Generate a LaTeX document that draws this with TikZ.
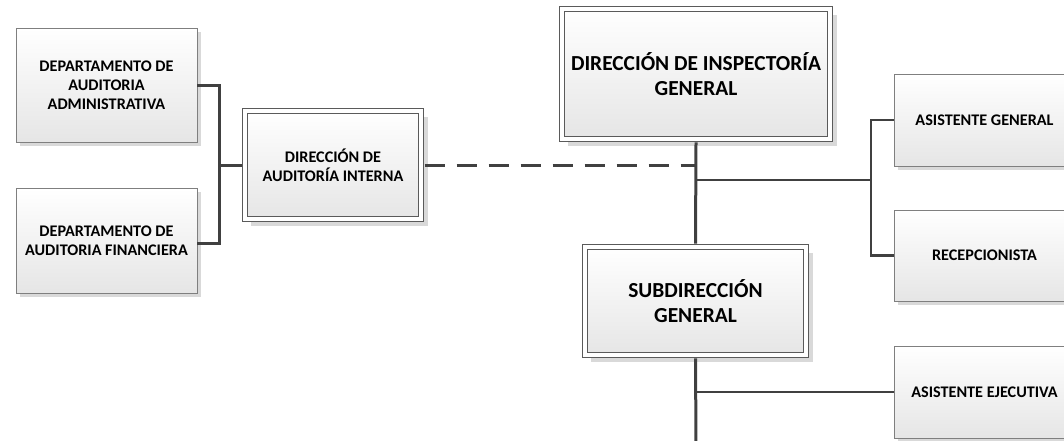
\documentclass[tikz,border=0pt]{standalone}
\usepackage{fontspec}
\setmainfont{Carlito}
\usetikzlibrary{shadows}
\definecolor{lin}{HTML}{404040}
\definecolor{brd}{HTML}{7F7F7F}
\definecolor{dbrd}{HTML}{5A5A5A}
\tikzset{
  box/.style={draw=brd, line width=0.8pt, top color=white, bottom color=gray!20,
    align=center, font=\bfseries\fontsize{16.2}{19}\selectfont, inner sep=0pt,
    drop shadow={shadow xshift=4pt, shadow yshift=-4pt, fill=black!15, opacity=1}},
  dbox/.style={draw=dbrd, line width=0.8pt, double=white, double distance=4pt,
    top color=white, bottom color=gray!20, align=center, inner sep=0pt,
    drop shadow={shadow xshift=6.5pt, shadow yshift=-6.5pt, fill=black!15, opacity=1}},
  big/.style={font=\bfseries\fontsize{21.4}{25.5}\selectfont},
  small/.style={font=\bfseries\fontsize{16.2}{19}\selectfont},
  conn/.style={draw=lin, line width=3pt},
  thinconn/.style={draw=lin, line width=2.4pt},
  dashconn/.style={draw=lin, line width=3pt, dash pattern=on 20pt off 12pt},
}
\begin{document}
\begin{tikzpicture}[x=1pt, y=-1pt]
\useasboundingbox (0,0) rectangle (1064,441);
\clip (0,0) rectangle (1064,441);
\coordinate (j1) at (219,165);
\coordinate (m1) at (696,165);
\coordinate (m2) at (696,180);
\coordinate (r1) at (871,180);
\coordinate (s1) at (696,392);
\coordinate (s2) at (696,445);
% boxes
\node[box, minimum width=181pt, minimum height=114pt] (adm) at (106.5,85) {DEPARTAMENTO DE\\AUDITORIA\\ADMINISTRATIVA};
\node[box, minimum width=181pt, minimum height=105pt] (fin) at (106.5,240.5) {DEPARTAMENTO DE\\AUDITORIA FINANCIERA};
\node[dbox, small, minimum width=176.4pt, minimum height=108.4pt] (dai) at (333,165) {DIRECCIÓN DE\\AUDITORÍA INTERNA};
\node[dbox, big, minimum width=268.4pt, minimum height=130.4pt] (dig) at (696,74) {DIRECCIÓN DE INSPECTORÍA\\GENERAL};
\node[dbox, big, minimum width=221.4pt, minimum height=108.4pt] (sub) at (695.5,301) {SUBDIRECCIÓN\\GENERAL};
\node[box, minimum width=181pt, minimum height=92pt] (asg) at (984.5,120) {ASISTENTE GENERAL};
\node[box, minimum width=181pt, minimum height=91pt] (rec) at (984.5,255.5) {RECEPCIONISTA};
\node[box, minimum width=181pt, minimum height=92pt] (ase) at (984.5,392) {ASISTENTE EJECUTIVA};
% lines
\draw[conn] (adm.east |- 0,86) -| (j1) |- (fin.east |- 0,243);
\draw[conn] (j1) -- ([xshift=-2.8pt]dai.west);
\draw[dashconn] ([xshift=3pt]dai.east) -- (m1);
\draw[conn] ([yshift=-2.8pt]dig.south) -- ([yshift=2.8pt]sub.north);
\draw[thinconn] (m2) -- (r1);
\draw[thinconn] (asg.west) -| (r1) |- (rec.west);
\draw[conn] ([yshift=-2.8pt]sub.south) -- (s2);
\draw[thinconn] (s1) -- (ase.west);
\end{tikzpicture}
\end{document}
